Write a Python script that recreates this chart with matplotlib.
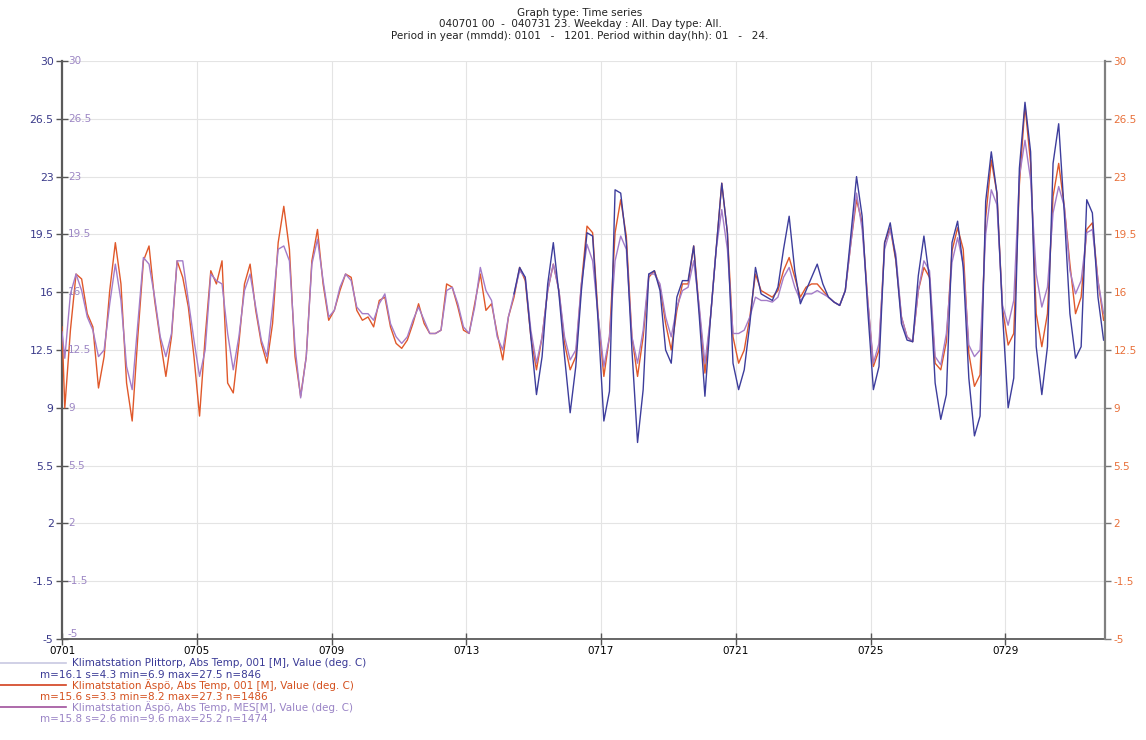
import numpy as np
import matplotlib
matplotlib.use("Agg")
import matplotlib.pyplot as plt
from matplotlib.lines import Line2D
from matplotlib.transforms import offset_copy

plt.rcParams['font.family'] = ['DejaVu Sans']

# Sampling hours: 0701 00, then 02, 06, 10, 14, 18, 22 of each day
hours = np.concatenate([[0], np.arange(2, 744, 4)])

# Klimatstation Aspo, Abs Temp, 001 [M]
aspo_001 = [13.9,
    9.0, 13.7, 17.1, 16.8, 14.7, 13.9,
    10.2, 12.1, 16.1, 19.0, 16.5, 10.5,
    8.2, 13.3, 17.9, 18.8, 15.5, 13.1,
    10.9, 13.3, 17.9, 16.9, 15.1, 12.1,
    8.5, 13.3, 17.3, 16.5, 17.9, 10.5,
    9.9, 12.9, 16.5, 17.7, 14.9, 12.9,
    11.7, 14.1, 19.0, 21.2, 18.6, 12.1,
    9.7, 12.1, 17.9, 19.8, 16.5, 14.3,
    14.9, 16.1, 17.1, 16.9, 14.9, 14.3,
    14.5, 13.9, 15.5, 15.7, 13.9, 12.9,
    12.6, 13.1, 14.1, 15.3, 14.1, 13.5,
    13.5, 13.7, 16.5, 16.3, 15.1, 13.7,
    13.5, 15.3, 17.1, 14.9, 15.3, 13.5,
    11.9, 14.5, 15.7, 17.5, 16.7, 13.3,
    11.3, 13.3, 16.1, 17.7, 16.1, 12.9,
    11.3, 12.1, 16.5, 20.0, 19.6, 14.5,
    10.9, 13.3, 19.6, 21.6, 19.4, 13.3,
    10.9, 13.3, 16.9, 17.3, 16.3, 14.1,
    12.5, 14.9, 16.5, 16.5, 18.8, 14.9,
    11.1, 14.5, 18.6, 22.6, 19.6, 13.3,
    11.7, 12.5, 14.5, 17.1, 16.1, 15.9,
    15.7, 16.1, 17.3, 18.1, 16.9, 15.7,
    16.3, 16.5, 16.5, 16.1, 15.7, 15.4,
    15.2, 16.1, 19.0, 21.6, 20.2, 15.5,
    11.5, 12.5, 19.0, 19.9, 17.9, 14.5,
    13.3, 13.0, 16.1, 17.5, 16.9, 11.7,
    11.3, 13.0, 18.5, 19.9, 18.6, 12.3,
    10.3, 11.0, 20.5, 24.0, 22.0, 15.0,
    12.8, 13.5, 22.5, 27.3, 23.8, 14.7,
    12.7, 14.7, 21.8, 23.8, 21.2, 17.7,
    14.7, 15.7, 19.8, 20.2, 16.7, 14.3,
]

# Klimatstation Aspo, Abs Temp, MES [M]
aspo_mes = [13.6,
    12.0, 15.9, 17.1, 16.1, 14.5, 13.7,
    12.1, 12.5, 15.3, 17.7, 15.5, 11.5,
    10.1, 14.1, 18.1, 17.7, 15.7, 13.3,
    12.1, 13.5, 17.9, 17.9, 15.5, 13.1,
    10.9, 12.5, 17.1, 16.7, 16.5, 13.5,
    11.3, 13.3, 16.1, 17.1, 15.1, 13.1,
    12.1, 15.1, 18.6, 18.8, 17.9, 12.7,
    9.6, 12.1, 17.7, 19.2, 16.7, 14.5,
    14.9, 16.3, 17.1, 16.7, 15.1, 14.7,
    14.7, 14.3, 15.3, 15.9, 14.1, 13.3,
    12.9, 13.3, 14.3, 15.1, 14.3, 13.5,
    13.5, 13.7, 16.1, 16.3, 15.3, 13.9,
    13.5, 15.1, 17.5, 16.1, 15.5, 13.3,
    12.5, 14.5, 15.9, 17.3, 16.9, 13.7,
    11.7, 13.3, 16.1, 17.7, 16.1, 13.3,
    11.9, 12.5, 16.5, 18.9, 17.9, 14.5,
    11.5, 13.3, 17.9, 19.4, 18.6, 13.3,
    11.7, 13.7, 17.1, 17.1, 16.5, 14.5,
    13.3, 15.1, 16.1, 16.3, 17.9, 15.1,
    11.7, 14.5, 18.6, 21.0, 18.6, 13.5,
    13.5, 13.7, 14.5, 15.7, 15.5, 15.5,
    15.4, 15.7, 16.9, 17.5, 16.3, 15.5,
    15.9, 15.9, 16.1, 15.9, 15.7, 15.4,
    15.2, 16.1, 19.0, 22.0, 19.8, 15.5,
    11.7, 12.9, 18.6, 19.8, 18.3, 14.5,
    13.3, 13.0, 16.1, 17.9, 17.3, 12.1,
    11.6, 13.5, 17.8, 19.3, 17.7, 12.8,
    12.1, 12.5, 19.5, 22.2, 21.3, 15.2,
    14.0, 15.5, 23.0, 25.2, 22.8, 17.1,
    15.1, 16.3, 20.8, 22.4, 21.2, 17.3,
    15.9, 16.7, 19.6, 19.8, 16.7, 14.7,
]

# Klimatstation Plittorp, Abs Temp, 001 [M] (no data before 0714 10h)
nan = float('nan')
plittorp = [nan] * 81 + [
    15.9, 17.5, 16.9, 13.3,
    9.8, 12.1, 16.5, 19.0, 15.9, 12.1,
    8.7, 11.5, 16.1, 19.6, 19.4, 14.1,
    8.2, 10.0, 22.2, 22.0, 19.0, 12.5,
    6.9, 10.1, 17.1, 17.3, 16.1, 12.5,
    11.7, 15.7, 16.7, 16.7, 18.8, 14.5,
    9.7, 14.5, 18.6, 22.6, 19.6, 11.7,
    10.1, 11.3, 14.1, 17.5, 15.9, 15.7,
    15.5, 16.3, 18.6, 20.6, 17.3, 15.3,
    16.1, 16.9, 17.7, 16.5, 15.7, 15.4,
    15.2, 16.1, 19.5, 23.0, 20.6, 14.9,
    10.1, 11.5, 19.0, 20.2, 18.0, 14.1,
    13.1, 13.0, 17.0, 19.4, 16.8, 10.5,
    8.3, 9.8, 19.0, 20.3, 17.5, 10.8,
    7.3, 8.5, 21.5, 24.5, 22.0, 14.7,
    9.0, 10.8, 23.5, 27.5, 24.5, 12.7,
    9.8, 12.7, 23.8, 26.2, 20.8, 14.7,
    12.0, 12.7, 21.6, 20.8, 15.7, 13.1,
]

x_tick_labels = ['0701', '0705', '0709', '0713', '0717', '0721', '0725', '0729']
y_ticks = [30, 26.5, 23, 19.5, 16, 12.5, 9, 5.5, 2, -1.5, -5]

legend_names = [
    'Klimatstation Plittorp, Abs Temp, 001 [M], Value (deg. C)',
    'Klimatstation Äspö, Abs Temp, 001 [M], Value (deg. C)',
    'Klimatstation Äspö, Abs Temp, MES[M], Value (deg. C)',
]
legend_stats = [
    'm=16.1 s=4.3 min=6.9 max=27.5 n=846',
    'm=15.6 s=3.3 min=8.2 max=27.3 n=1486',
    'm=15.8 s=2.6 min=9.6 max=25.2 n=1474',
]

C_BLUE = '#3d3d9c'
C_ORANGE = '#e0582a'
C_PURPLE = '#a47cc8'

W, H = 1146, 740
fig = plt.figure(figsize=(W / 100, H / 100), dpi=100)
L, R, T, B = 62, 1105, 61, 639
ax = fig.add_axes([L / W, 1 - B / H, (R - L) / W, (B - T) / H])

ax.plot(hours, aspo_001, color=C_ORANGE, lw=1.0, zorder=3)
ax.plot(hours, aspo_mes, color=C_PURPLE, lw=1.0, zorder=4)
ax.plot(hours, plittorp, color=C_BLUE, lw=1.0, zorder=5)

ax.set_xlim(0, 743)
ax.set_ylim(-5, 30)
ax.set_xticks([96 * i for i in range(len(x_tick_labels))])
ax.set_xticklabels(x_tick_labels, fontsize=7.5)
ax.set_yticks(y_ticks)
ax.set_yticklabels([f'{v:g}' for v in y_ticks], fontsize=7.8, color='#3a3a8a')
ax.tick_params(axis='x', direction='inout', length=8, width=1, color='#555555', pad=1)
ax.tick_params(axis='y', direction='inout', length=8, width=1, color='#555555', pad=2)
ax.grid(True, color='#e4e4e4', lw=0.8, zorder=0)

for side in ('top', 'right'):
    ax.spines[side].set_visible(False)
ax.spines['left'].set_color('#5a5a5a')
ax.spines['left'].set_linewidth(1.6)
ax.spines['bottom'].set_color('#5a5a5a')
ax.spines['bottom'].set_linewidth(1.3)

# Inner labels beside the left axis
inner = offset_copy(ax.get_yaxis_transform(), fig=fig, x=6, y=0, units='dots')
for v in y_ticks:
    ax.text(0, v, f'{v:g}', transform=inner, fontsize=7.5, color='#9c86c4',
            ha='left', va='bottom' if v == -5 else 'center', zorder=6)

# Right axis
axr = ax.twinx()
axr.set_ylim(-5, 30)
axr.set_yticks(y_ticks)
axr.set_yticklabels([f'{v:g}' for v in y_ticks], fontsize=7.5, color='#e8703a')
axr.tick_params(axis='y', direction='out', length=4, width=1, color='#777777', pad=2)
for side in ('top', 'left', 'bottom'):
    axr.spines[side].set_visible(False)
axr.spines['right'].set_color('#808080')
axr.spines['right'].set_linewidth(1.6)

# Heading
title_lines = [
    'Graph type: Time series',
    '040701 00  -  040731 23. Weekday : All. Day type: All.',
    'Period in year (mmdd): 0101   -   1201. Period within day(hh): 01   -   24.',
]
for i, line in enumerate(title_lines):
    fig.text(580 / W, 1 - (12.5 + 11.8 * i) / H, line, ha='center', va='center',
             fontsize=7.5, color='#222222')

# Legend block under the plot
line_colors = ['#c8c8e2', '#d2401e', '#a0509c']
name_colors = ['#3a3a96', '#d4501e', '#9a84c6']
stat_colors = ['#3a3a96', '#d4501e', '#9a84c6']
for i in range(3):
    yl = 1 - (663 + 22 * i) / H
    ys = 1 - (675 + 22 * i) / H
    fig.add_artist(Line2D([0, 66 / W], [yl, yl], color=line_colors[i], lw=1.2))
    fig.text(72 / W, yl, legend_names[i], fontsize=7.5, color=name_colors[i],
             ha='left', va='center')
    fig.text(40 / W, ys, legend_stats[i], fontsize=7.5, color=stat_colors[i],
             ha='left', va='center')

fig.savefig('out.png', dpi=100, facecolor='white')
